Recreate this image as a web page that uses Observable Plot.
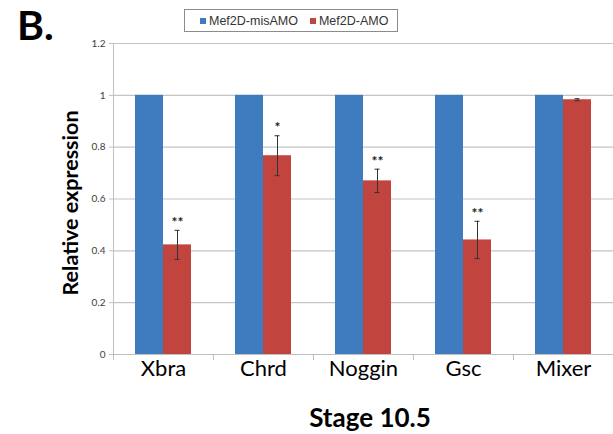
<!DOCTYPE html>
<html>
<head>
<meta charset="utf-8">
<script src="https://cdn.jsdelivr.net/npm/d3@7"></script>
<script src="https://cdn.jsdelivr.net/npm/@observablehq/plot@0.6"></script>
<style>
  html, body { margin: 0; padding: 0; background: #fff; }
  #wrap { position: relative; width: 613px; height: 434px; overflow: hidden; }
  #wrap svg { position: absolute; left: 0; top: 0; }
  .panel { position: absolute; left: 17px; top: 0px; font: bold 41px Lato, sans-serif; line-height: normal; color: #000; }
  .legend { position: absolute; left: 184px; top: 9px; width: 212px; height: 21px; border: 1px solid #8c8c8c;
            font: 12.5px "Liberation Sans", Arial, sans-serif; color: #333; display: flex; align-items: center; }
  .legend span.sw { display: inline-block; width: 6px; height: 6px; margin-right: 3px; }
  .legend .item { display: flex; align-items: center; }
  .ylab { position: absolute; left: 70px; top: 203px; transform: translate(-50%, -50%) rotate(-90deg);
          font: bold 21.5px Lato, sans-serif; white-space: nowrap; color: #000; }
  .xlab { position: absolute; left: 370px; top: 401px; transform: translateX(-50%);
          font: bold 26px Lato, sans-serif; white-space: nowrap; color: #000; }
</style>
</head>
<body>
<div id="wrap"></div>
<script>
const genes = ["Xbra", "Chrd", "Noggin", "Gsc", "Mixer"];
const seriesNames = ["Mef2D-misAMO", "Mef2D-AMO"];
const misAMO = [1, 1, 1, 1, 1];
const amo = [0.423, 0.767, 0.670, 0.442, 0.983];
const amoErr = [0.056, 0.077, 0.045, 0.072, 0.004];
const signif = ["**", "*", "**", "**", ""];
const yTicks = [0, 0.2, 0.4, 0.6, 0.8, 1, 1.2];
const colors = ["#3f7bbf", "#c2443f"];

const data = genes.flatMap((g, i) => [
  {gene: g, series: seriesNames[0], value: misAMO[i], err: 0, sig: ""},
  {gene: g, series: seriesNames[1], value: amo[i], err: amoErr[i], sig: signif[i]}
]);
const errData = data.filter(d => d.err > 0);
const sigData = data.filter(d => d.sig);

const chart = Plot.plot({
  width: 613,
  height: 434,
  marginTop: 43,
  marginBottom: 80,
  marginLeft: 112,
  marginRight: 0,
  style: {background: "transparent", fontFamily: "Lato, sans-serif", color: "#404040"},
  fx: {domain: genes, padding: 0, label: null},
  x: {domain: seriesNames, paddingInner: 0, paddingOuter: 0.73, axis: null},
  y: {domain: [0, 1.2], label: null},
  color: {domain: seriesNames, range: colors},
  marks: [
    Plot.gridY(yTicks, {stroke: "#c4c4c4", strokeOpacity: 1, strokeWidth: 1.2}),
    Plot.axisY(yTicks, {tickFormat: d => String(+d.toFixed(1)), fontSize: 10, tickSize: 4, tickPadding: 4,
                        stroke: "#bfbfbf", fill: "#404040", label: null}),
    Plot.frame({anchor: "left", stroke: "#bfbfbf", facetAnchor: "left"}),
    Plot.frame({anchor: "bottom", stroke: "#bfbfbf"}),
    Plot.frame({anchor: "left", stroke: "#bfbfbf", insetTop: 311, insetBottom: -5}),
    Plot.barY(data, {fx: "gene", x: "series", y: "value", fill: "series"}),
    Plot.ruleX(errData, {fx: "gene", x: "series", y1: d => d.value - d.err, y2: d => d.value + d.err, stroke: "#333", strokeWidth: 1}),
    Plot.tickY(errData, {fx: "gene", x: "series", y: d => d.value + d.err, stroke: "#333", insetLeft: 11.5, insetRight: 11.5}),
    Plot.tickY(errData, {fx: "gene", x: "series", y: d => d.value - d.err, stroke: "#333", insetLeft: 11.5, insetRight: 11.5}),
    Plot.text(sigData, {fx: "gene", x: "series", y: d => d.value + d.err, text: "sig", dy: -8, fontSize: 14, fontWeight: "bold", fill: "#222"}),
    Plot.axisFx({anchor: "bottom", tickSize: 0, tickPadding: 6, fontSize: 22, fill: "#000", label: null})
  ]
});

const wrap = document.getElementById("wrap");
wrap.appendChild(chart);

const panel = document.createElement("div");
panel.className = "panel"; panel.textContent = "B.";
wrap.appendChild(panel);

const legend = document.createElement("div");
legend.className = "legend";
seriesNames.forEach((s, i) => {
  const item = document.createElement("div");
  item.className = "item";
  item.style.marginLeft = i === 0 ? "15px" : "12px";
  const sw = document.createElement("span");
  sw.className = "sw"; sw.style.background = colors[i];
  const t = document.createElement("span");
  t.textContent = s;
  item.appendChild(sw); item.appendChild(t);
  legend.appendChild(item);
});
wrap.appendChild(legend);

const ylab = document.createElement("div");
ylab.className = "ylab"; ylab.textContent = "Relative expression";
wrap.appendChild(ylab);

const xlab = document.createElement("div");
xlab.className = "xlab"; xlab.textContent = "Stage 10.5";
wrap.appendChild(xlab);
</script>
</body>
</html>
